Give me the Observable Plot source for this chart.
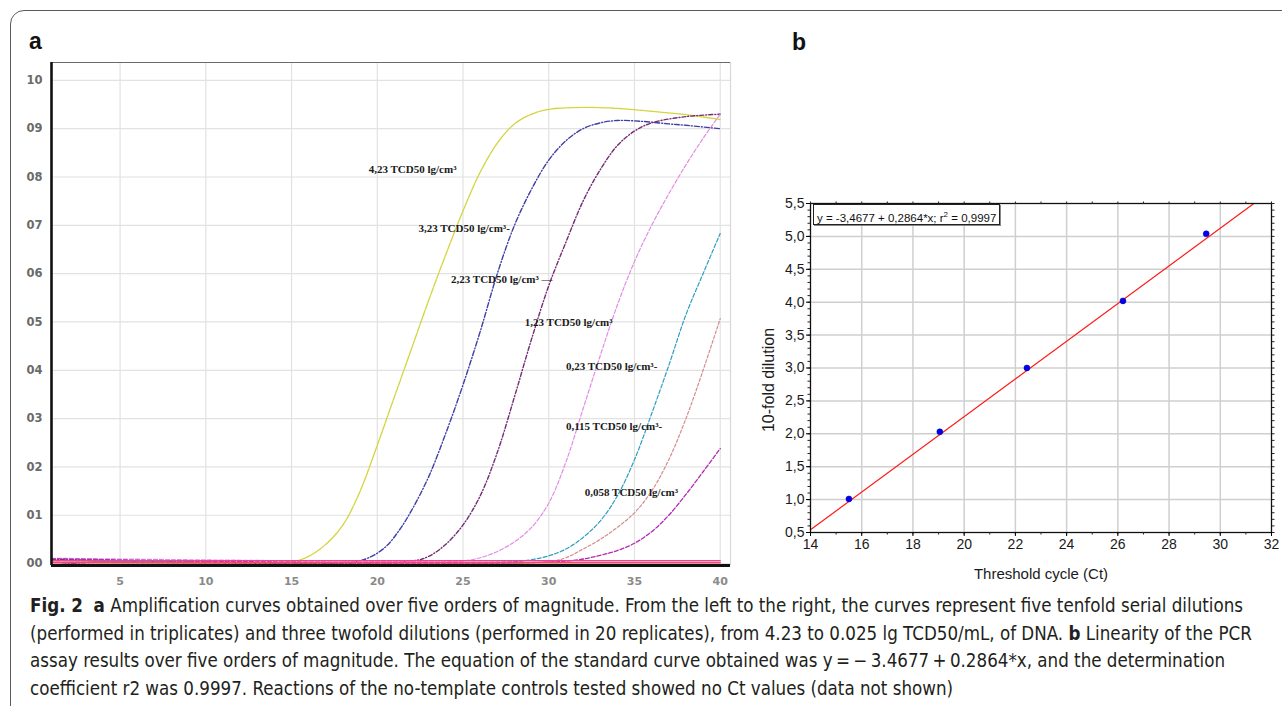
<!DOCTYPE html>
<html><head><meta charset="utf-8">
<script src="https://cdn.jsdelivr.net/npm/d3@7"></script>
<script src="https://cdn.jsdelivr.net/npm/@observablehq/plot@0.6"></script>
<style>
html,body{margin:0;padding:0;background:#fff;}
#root{position:relative;width:1282px;height:706px;overflow:hidden;font-family:"Liberation Sans",Arial,sans-serif;background:#fff;}
#frame{position:absolute;left:10px;top:10px;width:1300px;height:720px;border:1.5px solid #5a5a5a;border-radius:14px;box-sizing:border-box;}
.plabel{position:absolute;font-weight:bold;font-size:23px;color:#111;font-family:"Liberation Sans",Arial,sans-serif;}
#chartA{position:absolute;left:0;top:40px;}
#chartB{position:absolute;left:740px;top:180px;}
#eqbox{position:absolute;left:813px;top:204px;height:19px;padding:0 3px;border:1px solid #222;box-shadow:1px 1px 0 #888;background:#fff;font-size:11.5px;line-height:19px;color:#111;white-space:nowrap;}
#caption{position:absolute;left:30px;top:592px;font-family:"Liberation Sans Narrow","DejaVu Sans Condensed",sans-serif;font-size:18.6px;color:#231f20;line-height:27.5px;}
#caption div{white-space:nowrap;}
</style></head><body><div id="root">
<div id="frame"></div>
<div class="plabel" style="left:29px;top:28px;">a</div>
<div class="plabel" style="left:792px;top:29px;">b</div>
<div id="chartA"></div>
<div id="chartB"></div>
<div id="eqbox"></div>
<div id="caption"></div>
</div>
<script>
// ---------- Panel a data (amplification curves) ----------
const cycleTicks = [5, 10, 15, 20, 25, 30, 35, 40];
const fluorTicks = [0, 0.1, 0.2, 0.3, 0.4, 0.5, 0.6, 0.7, 0.8, 0.9, 1.0];
const fluorTickLabels = ["00", "01", "02", "03", "04", "05", "06", "07", "08", "09", "10"];

const curve423 = [[1,0.007],[15,0.004],[16,0.015],[17,0.04],[18,0.08],[19,0.15],[20,0.245],[21,0.345],[22,0.445],[23,0.545],[24,0.64],[25,0.73],[26,0.81],[27,0.87],[28,0.91],[29,0.93],[30,0.94],[32,0.944],[34,0.942],[36,0.936],[38,0.929],[40,0.919]];
const curve323 = [[1,-0.004],[3,0.002],[18.6,0.004],[19.5,0.012],[20.5,0.035],[21.3,0.07],[22,0.11],[23,0.18],[24,0.27],[25,0.37],[26,0.48],[27,0.6],[28,0.70],[29,0.775],[30,0.835],[31,0.875],[32,0.90],[33,0.912],[34,0.917],[35.5,0.915],[37,0.91],[38,0.907],[40,0.90]];
const curve223 = [[1,0.009],[22,0.005],[23,0.015],[24,0.04],[25,0.08],[26,0.14],[27,0.23],[28,0.345],[29,0.465],[30,0.575],[31,0.665],[32,0.75],[33,0.815],[34,0.865],[35,0.895],[36,0.912],[38,0.925],[40,0.93]];
const curve123 = [[1,0.011],[24.5,0.004],[25,0.005],[26,0.012],[27,0.025],[28,0.045],[29,0.075],[30,0.125],[31,0.21],[32,0.32],[33,0.43],[34,0.535],[35,0.625],[36,0.70],[37,0.765],[38,0.825],[39,0.88],[40,0.93]];
const curve023 = [[1,0.006],[28,0.004],[29,0.008],[30,0.016],[31,0.03],[32,0.054],[33,0.088],[34,0.14],[35,0.215],[36,0.31],[37,0.41],[38,0.515],[39,0.60],[40,0.683]];
const curve0115 = [[1,0.003],[30,0.004],[31,0.012],[32,0.03],[33,0.05],[34,0.075],[35,0.105],[36,0.15],[37,0.215],[38,0.30],[39,0.40],[40,0.507]];
const curve0058 = [[1,0.01],[31,0.005],[33,0.017],[34,0.027],[35,0.042],[36,0.066],[37,0.10],[38,0.143],[39,0.19],[40,0.238]];
const baselineRed = [[1,0.002],[40,0.002]];
const baselinePink = [[1,0.006],[40,0.006]];

const seriesNames = ["4,23","3,23","2,23","1,23","0,23","0,115","0,058","ntc1","ntc2"];
const seriesPoints = [curve423, curve323, curve223, curve123, curve023, curve0115, curve0058, baselineRed, baselinePink];
const seriesColors = ["#d4d43e","#3f3fa6","#742c74","#e28ee2","#2f9ec2","#d48c8c","#b22cb2","#e8506a","#ff3a92"];
const seriesDash = ["7,1","5,2,1,2","4,2,1,2","4,2","4,2","3,2","4,2","none","none"];
const seriesWidth = [1.3,1.4,1.4,1.2,1.2,1.2,1.3,1.6,1.4];

const labelText = ["4,23 TCD50 lg/cm³","3,23 TCD50 lg/cm³-","2,23 TCD50 lg/cm³ —","1,23 TCD50 lg/cm³","0,23 TCD50 lg/cm³-","0,115 TCD50 lg/cm³-","0,058 TCD50 lg/cm³"];
const labelCycle = [19.5, 22.4, 24.3, 28.6, 31.0, 31.0, 32.1];
const labelValue = [0.816, 0.694, 0.588, 0.499, 0.408, 0.284, 0.147];

// ---------- Panel b data (standard curve) ----------
const ctValues = [15.5, 19.05, 22.45, 26.2, 29.45];
const dilutionValues = [1.01, 2.03, 3.0, 4.02, 5.04];
const fitIntercept = -3.4677;
const fitSlope = 0.2864;
const fitR2 = "0,9997";
const ctTicks = [14, 16, 18, 20, 22, 24, 26, 28, 30, 32];
const dilTicks = [0.5, 1.0, 1.5, 2.0, 2.5, 3.0, 3.5, 4.0, 4.5, 5.0, 5.5];

const captionLines = [
  ["<b>Fig. 2</b>&nbsp; <b>a</b> Amplification curves obtained over five orders of magnitude. From the left to the right, the curves represent five tenfold serial dilutions"],
  ["(performed in triplicates) and three twofold dilutions (performed in 20 replicates), from 4.23 to 0.025 lg TCD50/mL, of DNA. <b>b</b> Linearity of the PCR"],
  ["assay results over five orders of magnitude. The equation of the standard curve obtained was y&thinsp;=&thinsp;−&thinsp;3.4677&thinsp;+&thinsp;0.2864*x, and the determination"],
  ["coefficient r2 was 0.9997. Reactions of the no-template controls tested showed no Ct values (data not shown)"]
];

// ---------- Panel a ----------
const xDomA = [1, 40.6];
const yDomA = [-0.004, 1.037];
const lineMarks = seriesPoints.map((pts, i) => Plot.line(
  pts.map(([c, v]) => ({series: seriesNames[i], cycle: c, value: v})),
  {x: "cycle", y: "value", stroke: seriesColors[i], strokeWidth: seriesWidth[i],
   strokeDasharray: seriesDash[i] === "none" ? null : seriesDash[i], curve: "catmull-rom"}
));
const labels = labelText.map((t, i) => ({t, x: labelCycle[i], y: labelValue[i]}));

const chartA = Plot.plot({
  width: 760, height: 560,
  marginLeft: 51, marginRight: 30, marginTop: 22, marginBottom: 35,
  x: {domain: xDomA},
  y: {domain: yDomA},
  style: {background: "transparent"},
  marks: [
    Plot.gridX(cycleTicks, {stroke: "#e2e2e2", strokeOpacity: 1, strokeWidth: 1.2}),
    Plot.gridY(fluorTicks, {stroke: "#e2e2e2", strokeOpacity: 1, strokeWidth: 1.2}),
    Plot.ruleX([xDomA[1]], {stroke: "#d8d8d8", strokeWidth: 1.2}),
    Plot.ruleY([yDomA[1]], {stroke: "#6a6a6a", strokeWidth: 1}),
    ...lineMarks,
    Plot.text(labels, {x: "x", y: "y", text: "t", textAnchor: "start", fill: "#1a1a1a",
      fontFamily: "Liberation Serif, Times New Roman, serif", fontSize: 11, fontWeight: "bold"}),
    Plot.ruleX([xDomA[0]], {stroke: "#111", strokeWidth: 2.6}),
    Plot.ruleY([yDomA[0]], {stroke: "#111", strokeWidth: 3}),
    Plot.axisY(fluorTicks, {tickSize: 0, tickPadding: 9, tickFormat: (d, i) => fluorTickLabels[i],
      fill: "#6a6a6a", fontSize: 11.5, fontWeight: "bold", fontFamily: "DejaVu Sans, sans-serif", label: null}),
    Plot.axisX(cycleTicks, {tickSize: 0, tickPadding: 12, fill: "#8a8a8a", fontSize: 11,
      fontWeight: "bold", fontFamily: "DejaVu Sans, sans-serif", label: null})
  ]
});
document.getElementById("chartA").appendChild(chartA);

// ---------- Panel b ----------
const xDomB = [14, 32];
const yDomB = [0.5, 5.5];
const points = ctValues.map((c, i) => ({ct: c, dil: dilutionValues[i]}));
const fitLine = [xDomB[0], (yDomB[1] - fitIntercept) / fitSlope].map(x => ({ct: x, dil: fitIntercept + fitSlope * x}));
const minorY = d3.range(5, 56).map(d => d / 10);
const minorX = d3.range(14, 33);

const chartB = Plot.plot({
  width: 540, height: 420,
  marginLeft: 70, marginRight: 9, marginTop: 23, marginBottom: 68,
  x: {domain: xDomB},
  y: {domain: yDomB},
  style: {background: "transparent", fontFamily: "Liberation Sans, Arial, sans-serif"},
  marks: [
    Plot.gridX(ctTicks, {stroke: "#cfcfcf", strokeOpacity: 1, strokeWidth: 1.5}),
    Plot.gridY(dilTicks, {stroke: "#cfcfcf", strokeOpacity: 1, strokeWidth: 1.5}),
    Plot.line(fitLine, {x: "ct", y: "dil", stroke: "#ff1a1a", strokeWidth: 1.2}),
    Plot.dot(points, {x: "ct", y: "dil", r: 3, fill: "#0000ee", stroke: "#0000aa", strokeWidth: 0.5}),
    Plot.frame({stroke: "#111", strokeWidth: 1.2}),
    Plot.axisY(minorY, {anchor: "left", tickSize: 2.5, text: null, label: null, stroke: "#222"}),
    Plot.axisY(minorY, {anchor: "right", tickSize: 2.5, text: null, label: null, stroke: "#222"}),
    Plot.axisX(minorX, {anchor: "top", tickSize: 2.5, text: null, label: null, stroke: "#222"}),
    Plot.axisX(minorX, {anchor: "bottom", tickSize: 2.5, text: null, label: null, stroke: "#222"}),
    Plot.axisY(dilTicks, {anchor: "left", tickSize: 4, tickPadding: 2, fontSize: 14, fill: "#1a1a1a",
      tickFormat: d => d.toFixed(1).replace(".", ","), label: null}),
    Plot.axisX(ctTicks, {anchor: "bottom", tickSize: 4, tickPadding: 3, fontSize: 14, fill: "#1a1a1a",
      tickFormat: d => String(d), label: null}),
    Plot.text(["Threshold cycle (Ct)"], {frameAnchor: "bottom", textAnchor: "middle", dy: 46, text: d => d, fontSize: 15, fill: "#1a1a1a"}),
    Plot.text(["10-fold dilution"], {frameAnchor: "left", textAnchor: "middle", dx: -42, dy: 12, rotate: -90, text: d => d, fontSize: 16, fill: "#1a1a1a"})
  ]
});
document.getElementById("chartB").appendChild(chartB);

document.getElementById("eqbox").innerHTML =
  `y = ${String(fitIntercept).replace(".", ",")} + ${String(fitSlope).replace(".", ",")}*x; r<sup style="font-size:8px">2</sup> = ${fitR2}`;

document.getElementById("caption").innerHTML = captionLines.map(l => `<div>${l[0]}</div>`).join("");
</script>
</body></html>
